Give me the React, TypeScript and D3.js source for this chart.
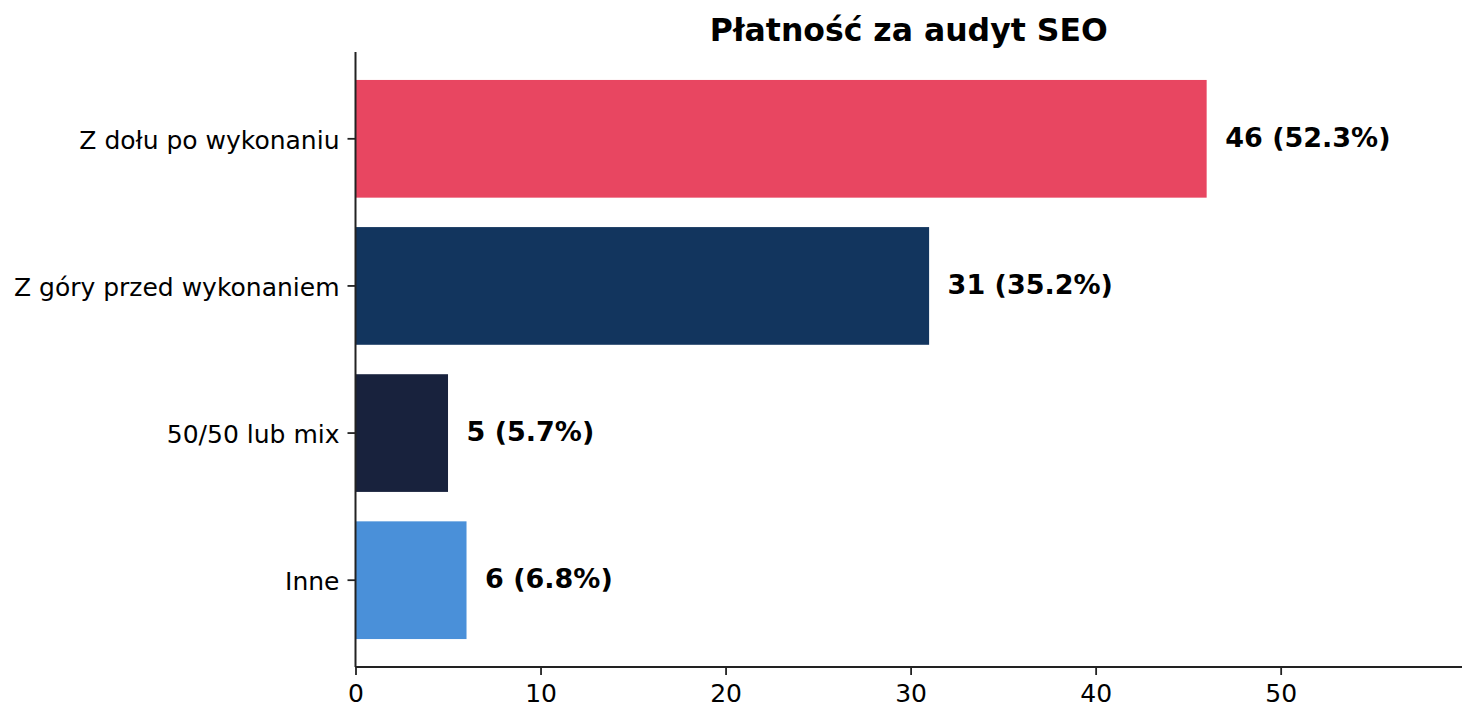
import React, { useEffect, useRef } from 'react';
import * as d3 from 'd3';

const categories = ['Z dołu po wykonaniu', 'Z góry przed wykonaniem', '50/50 lub mix', 'Inne'];
const counts = [46, 31, 5, 6];
const shares = [52.3, 35.2, 5.7, 6.8];
const barColors = ['#E84661', '#12355E', '#18223D', '#4A90D9'];
const xTicks = [0, 10, 20, 30, 40, 50];

const App: React.FC = () => {
  const svgRef = useRef<SVGSVGElement>(null);

  useEffect(() => {
    if (!svgRef.current) return;

    const width = 1477;
    const height = 721;
    const marginTop = 52;
    const marginRight = 15;
    const marginBottom = 54;
    const marginLeft = 355.5;

    const svg = d3.select(svgRef.current);
    svg.selectAll('*').remove();
    svg.attr('viewBox', [0, 0, width, height]).attr('width', width).attr('height', height);

    const x = d3.scaleLinear()
      .domain([0, d3.max(counts)! * 1.3])
      .range([marginLeft, width - marginRight]);

    const y = d3.scaleBand<string>()
      .domain(categories)
      .range([marginTop, height - marginBottom])
      .paddingInner(0.2)
      .paddingOuter(0.19);

    const font = 'DejaVu Sans, sans-serif';

    // bars
    svg.append('g')
      .selectAll('rect')
      .data(categories)
      .join('rect')
      .attr('x', x(0))
      .attr('y', d => y(d)!)
      .attr('width', (_, i) => x(counts[i]) - x(0))
      .attr('height', y.bandwidth())
      .attr('fill', (_, i) => barColors[i]);

    // value labels
    svg.append('g')
      .selectAll('text')
      .data(categories)
      .join('text')
      .attr('x', (_, i) => x(counts[i] + 1))
      .attr('y', d => y(d)! + y.bandwidth() / 2)
      .attr('dy', '0.3em')
      .attr('font-family', font)
      .attr('font-size', 27)
      .attr('font-weight', 'bold')
      .attr('fill', '#000')
      .text((_, i) => `${counts[i]} (${shares[i].toFixed(1)}%)`);

    // x axis
    const xAxis = svg.append('g')
      .attr('transform', `translate(0,${height - marginBottom})`)
      .call(d3.axisBottom(x).tickValues(xTicks).tickSize(8).tickPadding(9).tickFormat(d3.format('d')));
    xAxis.select('.domain').attr('stroke', '#222').attr('stroke-width', 2)
      .attr('d', `M${x(0)},0H${width - marginRight}`);
    xAxis.selectAll('.tick line').attr('stroke', '#222').attr('stroke-width', 1.8);
    xAxis.selectAll('.tick text')
      .attr('font-family', font).attr('font-size', 25).attr('fill', '#000');

    // y axis
    const yAxis = svg.append('g')
      .attr('transform', `translate(${marginLeft},0)`)
      .call(d3.axisLeft(y).tickSize(8).tickPadding(8));
    yAxis.select('.domain').attr('stroke', '#222').attr('stroke-width', 2)
      .attr('d', `M0,${marginTop}V${height - marginBottom}`);
    yAxis.selectAll('.tick line').attr('stroke', '#222').attr('stroke-width', 1.8);
    yAxis.selectAll('.tick text')
      .attr('font-family', font).attr('font-size', 25).attr('fill', '#000')
      .attr('dy', '0.4em');

    // title
    svg.append('text')
      .attr('x', (marginLeft + width - marginRight) / 2)
      .attr('y', 41)
      .attr('text-anchor', 'middle')
      .attr('font-family', font)
      .attr('font-size', 31.5)
      .attr('font-weight', 'bold')
      .attr('fill', '#000')
      .text('Płatność za audyt SEO');
  }, []);

  return (
    <div style={{ position: 'absolute', left: 0, top: 0, width: 1477, height: 721, background: '#fff' }}>
      <svg ref={svgRef} style={{ display: 'block' }}></svg>
    </div>
  );
};

export default App;
